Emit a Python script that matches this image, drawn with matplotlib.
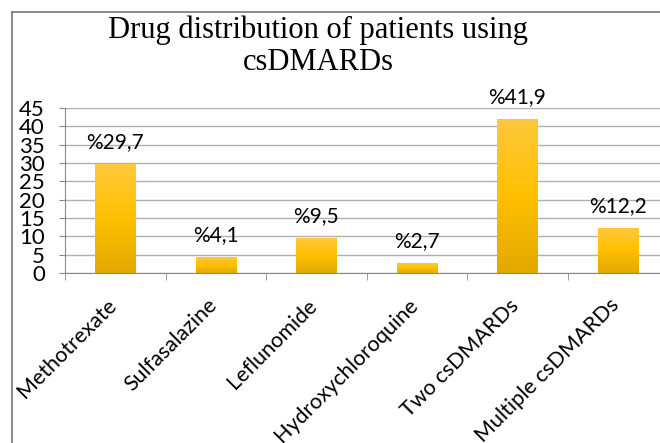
import matplotlib
matplotlib.use('Agg')
import matplotlib.pyplot as plt
import matplotlib.transforms as mtransforms
import numpy as np
from matplotlib.colors import LinearSegmentedColormap
from matplotlib.lines import Line2D

# data
categories = ['Methotrexate', 'Sulfasalazine', 'Leflunomide',
              'Hydroxychloroquine', 'Two csDMARDs', 'Multiple csDMARDs']
values = [29.7, 4.1, 9.5, 2.7, 41.9, 12.2]
labels = ['%29,7', '%4,1', '%9,5', '%2,7', '%41,9', '%12,2']
y_ticks = [0, 5, 10, 15, 20, 25, 30, 35, 40, 45]

plt.rcParams['font.family'] = ['Lato', 'DejaVu Sans']

fig = plt.figure(figsize=(6.6, 4.43), dpi=100)
# plot area runs slightly past the right edge like the original crop
ax = fig.add_axes([65 / 660, 1 - 273 / 443, 603 / 660, 165 / 443])

x = np.arange(len(categories))
bar_w = 0.4

# gradient fill: lighter on top, darker at the bottom
cmap = LinearSegmentedColormap.from_list('gold', ['#e2a900', '#ffc000', '#ffc83c'])
grad = np.linspace(0, 1, 256).reshape(-1, 1)
bars = ax.bar(x, values, width=bar_w, color='none', edgecolor='none', zorder=2)
for b in bars:
    x0, y0 = b.get_x(), b.get_y()
    ax.imshow(grad, cmap=cmap, origin='lower', aspect='auto',
              extent=(x0, x0 + b.get_width(), y0, y0 + b.get_height()), zorder=2)

for xi, v, lab in zip(x, values, labels):
    ax.annotate(lab, (xi, v), xytext=(0, 9), textcoords='offset points',
                ha='center', va='bottom', fontsize=15)

ax.set_xlim(-0.5, len(categories) - 0.5)
ax.set_ylim(0, 45)
ax.set_yticks(y_ticks)
ax.set_yticklabels([str(t) for t in y_ticks], fontsize=16)
ax.tick_params(axis='y', length=4.5, color='#888888', pad=10)

ax.set_xticks(x)
ax.set_xticklabels(categories, rotation=45, ha='right', rotation_mode='anchor', fontsize=15.5)
ax.tick_params(axis='x', length=0, pad=16)
# nudge rotated labels left so their ends sit over the category centre
shift = mtransforms.ScaledTranslation(-9 / 100, 0, fig.dpi_scale_trans)
for t in ax.get_xticklabels():
    t.set_transform(t.get_transform() + shift)
ax.set_xticks(np.arange(len(categories) + 1) - 0.5, minor=True)
ax.tick_params(axis='x', which='minor', length=5, color='#888888')

ax.grid(axis='y', color='#b0b0b0', linewidth=1)
ax.set_axisbelow(True)
for s in ['top', 'right']:
    ax.spines[s].set_visible(False)
for s in ['left', 'bottom']:
    ax.spines[s].set_color('#888888')

fig.text(318 / 660, 1 - 46 / 443, 'Drug distribution of patients using\ncsDMARDs',
         ha='center', va='center', fontsize=22, family='Liberation Serif', linespacing=1.12)

# chart frame (cropped on the right and bottom)
fig.add_artist(Line2D([12 / 660, 12 / 660], [0, 1 - 12 / 443], color='#777777', lw=1.2))
fig.add_artist(Line2D([12 / 660, 1], [1 - 12 / 443, 1 - 12 / 443], color='#777777', lw=1.2))

fig.savefig('out.png', dpi=100)
